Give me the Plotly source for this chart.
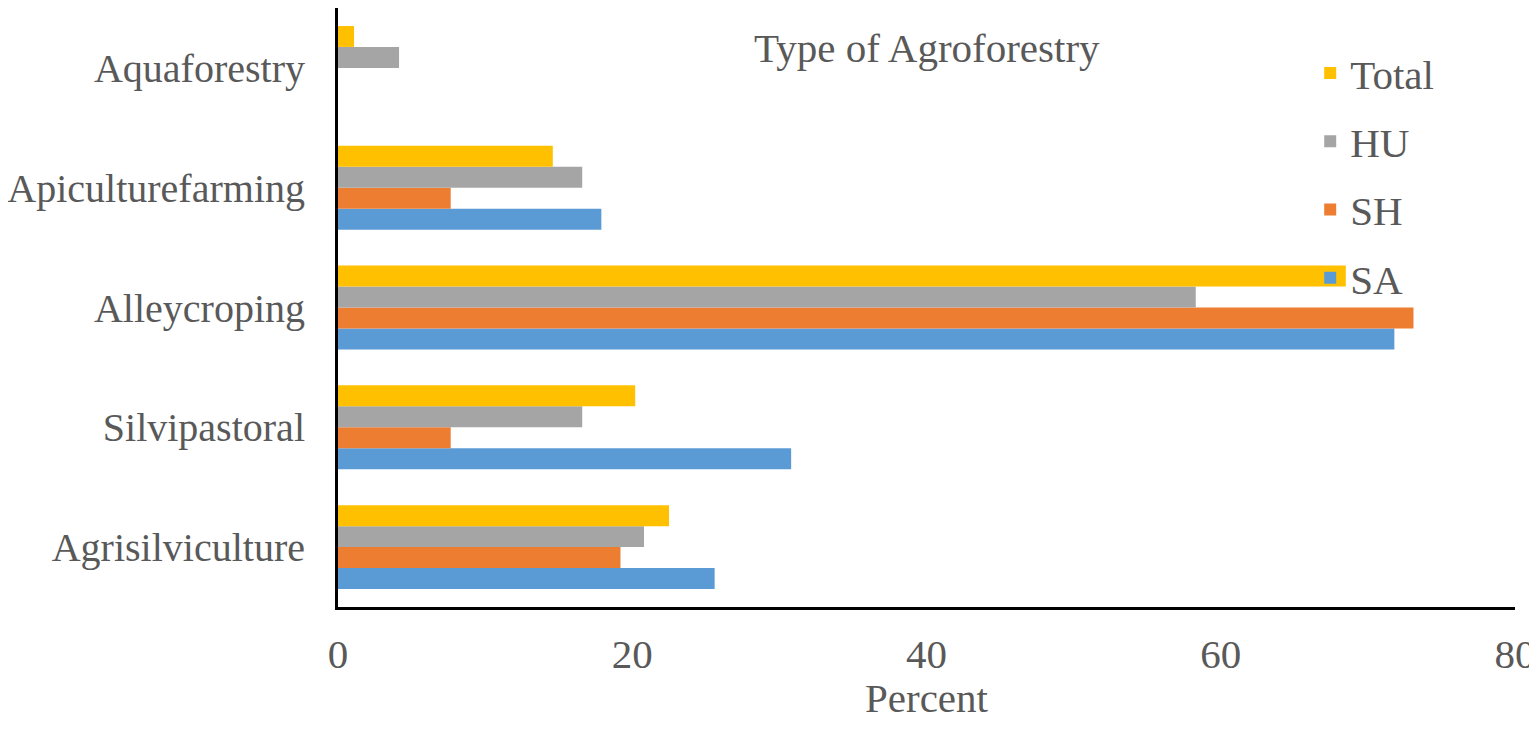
import plotly.graph_objects as go

categories = ["Agrisilviculture", "Silvipastoral", "Alleycroping", "Apiculturefarming", "Aquaforestry"]
sa = [25.6, 30.8, 71.8, 17.9, 0]
sh = [19.2, 7.66, 73.1, 7.66, 0]
hu = [20.8, 16.6, 58.3, 16.6, 4.15]
total = [22.5, 20.2, 68.5, 14.6, 1.09]
x_ticks = [0, 20, 40, 60, 80]

series = [("SA", sa, "#5B9BD5", 4), ("SH", sh, "#ED7D31", 3), ("HU", hu, "#A5A5A5", 2), ("Total", total, "#FFC000", 1)]

fig = go.Figure()
for name, vals, color, rank in series:
    fig.add_trace(go.Bar(y=categories, x=vals, name=name, orientation="h", legendrank=rank,
                         marker=dict(color=color, line=dict(width=0)), legendgroup=name))

font = "Liberation Serif, Times New Roman, serif"
fig.update_layout(
    width=1529, height=713,
    margin=dict(l=330, r=22, t=0, b=114, autoexpand=False),
    paper_bgcolor="white", plot_bgcolor="white",
    barmode="group", bargap=0.3, bargroupgap=0,
    font=dict(family=font, size=41, color="#595959"),
    legend=dict(x=0.826, y=0.947, xanchor="left", yanchor="top", traceorder="grouped",
                font=dict(size=41, color="#595959"), tracegroupgap=12, bgcolor="rgba(0,0,0,0)"),
    xaxis=dict(range=[0, 80], tickvals=x_ticks, showgrid=False, zeroline=False, automargin=False,
               showline=True, linecolor="black", linewidth=3, ticks="", ticklabelstandoff=9,
               title=dict(text="Percent", font=dict(size=41, color="#595959"), standoff=9)),
    yaxis=dict(showgrid=False, zeroline=False, showline=True, linecolor="black", linewidth=3,
               ticks="", ticklabelstandoff=22, automargin=False, tickfont=dict(size=40)),
    annotations=[dict(text="Type of Agroforestry", x=0.5, y=(599 - 39) / 600, xref="paper", yref="paper",
                      yanchor="middle", showarrow=False, font=dict(size=41, color="#595959"))],
)
fig.write_html("out.html")
